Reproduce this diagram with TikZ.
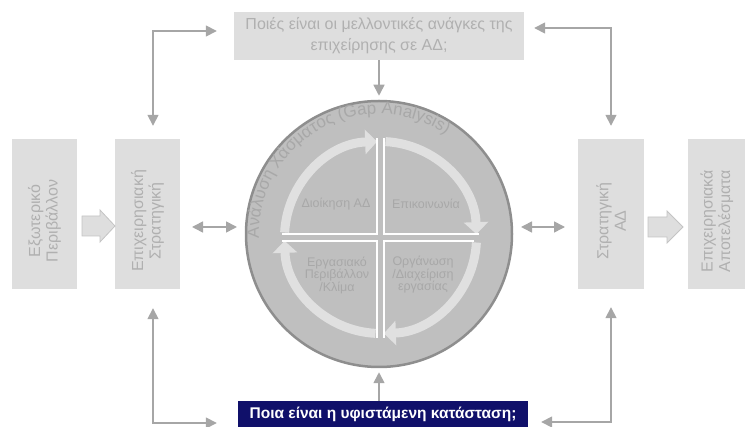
\documentclass[tikz,border=0pt]{standalone}
\usepackage{fontspec}
\setmainfont{Liberation Sans}
\usetikzlibrary{arrows.meta,decorations.text}
\definecolor{boxfill}{HTML}{DEDEDE}
\definecolor{boxtext}{HTML}{B0B0B0}
\definecolor{circfill}{HTML}{BFBFBF}
\definecolor{circdraw}{HTML}{8E8E8E}
\definecolor{ringcol}{HTML}{E0E0E0}
\definecolor{quadtext}{HTML}{A8A8A8}
\definecolor{arrgray}{HTML}{A6A6A6}
\definecolor{navy}{HTML}{10106A}
\definecolor{blockdraw}{HTML}{C4C4C4}
\begin{document}
\begin{tikzpicture}[x=1pt,y=1pt,
  box/.style={rectangle, fill=boxfill, inner sep=0pt, minimum height=150pt},
  vtext/.style={rotate=90, text=boxtext, align=center, font=\fontsize{16}{17.5}\selectfont},
  qtext/.style={text=quadtext, align=center, font=\fontsize{12.5}{12.5}\selectfont},
  conn/.style={draw=arrgray, line width=1.6pt},
  >={Triangle[length=11pt,width=11pt]},
  ringarr/.style={draw=ringcol, line width=9pt, -{Triangle[length=12pt,width=24pt]}},
  cross/.style={draw=white, line width=2pt},
  blockarr/.style={fill=boxfill, draw=blockdraw, line width=0.8pt}
]
\useasboundingbox (0,0) rectangle (745,-427);

% boxes
\node[box, minimum width=65pt] (b1) at (44.5,-214) {};
\node[vtext] at (44.5,-221) {Εξωτερικό\\Περιβάλλον};
\node[box, minimum width=65pt] (b2) at (147.5,-214) {};
\node[vtext] at (147.5,-221) {Επιχειρησιακή\\Στρατηγική};
\node[box, minimum width=66pt] (b3) at (611,-214) {};
\node[vtext] at (611,-221) {Στρατηγική\\ΑΔ};
\node[box, minimum width=57pt] (b4) at (716.5,-214) {};
\node[vtext] at (717,-221) {Επιχειρησιακά\\Αποτελέσματα};

% block arrows
\path[blockarr] (82,-216) -- (100,-216) -- (100,-210) -- (115,-226) -- (100,-242) -- (100,-236) -- (82,-236) -- cycle;
\path[blockarr] (648,-217) -- (667,-217) -- (667,-211) -- (683,-227) -- (667,-243) -- (667,-237) -- (648,-237) -- cycle;

% top and bottom boxes
\node[rectangle, fill=boxfill, minimum width=290pt, minimum height=48pt, inner sep=0pt,
      text=boxtext, align=center, font=\fontsize{16}{21}\selectfont] (tb) at (379,-36)
      {Ποιές είναι οι μελλοντικές ανάγκες της\\επιχείρησης σε ΑΔ;};
\node[rectangle, fill=navy, minimum width=290pt, minimum height=26pt, inner sep=0pt,
      text=white, font=\bfseries\fontsize{15.5}{18}\selectfont] (bb) at (383,-414)
      {Ποια είναι η υφιστάμενη κατάσταση;};

% gap analysis circle
\node[circle, fill=circfill, draw=circdraw, line width=2.5pt, minimum size=266pt, inner sep=0pt] (gap) at (379,-234) {};
\coordinate (cc) at (380.5,-237.5);

\draw[ringarr] ([shift={(177:96)}]cc) arc[start angle=177, end angle=92, radius=96];
\draw[ringarr] ([shift={(87:96)}]cc) arc[start angle=87, end angle=2, radius=96];
\draw[ringarr] ([shift={(-3:96)}]cc) arc[start angle=-3, end angle=-88, radius=96];
\draw[ringarr] ([shift={(-93:96)}]cc) arc[start angle=-93, end angle=-178, radius=96];

\draw[cross] (282,-234) -- (377,-234) -- (377,-138);
\draw[cross] (384,-138) -- (384,-234) -- (479,-234);
\draw[cross] (474,-241) -- (384,-241) -- (384,-338);
\draw[cross] (377,-338) -- (377,-241) -- (282,-241);

\node[qtext] (q1) at (336,-204) {Διοίκηση ΑΔ};
\node[qtext] (q2) at (426,-204) {Επικοινωνία};
\node[qtext] (q3) at (337,-275) {Εργασιακό\\Περιβάλλον\\/Κλίμα};
\node[qtext] (q4) at (423,-275) {Οργάνωση\\/Διαχείριση\\εργασίας};

\path[decorate, decoration={text along path, text color=quadtext,
   text={|\fontsize{17}{17}\selectfont|Ανάλυση Χάσματος (Gap Analysis)}}]
   ([shift={(182:120)}]gap.center) arc[start angle=182, end angle=10, radius=120];

% connectors
\draw[conn, ->, shorten >=4pt] (tb.south) -- (gap.north);
\draw[conn, ->, shorten >=4pt] (bb.north -| gap.south) -- (gap.south);

\coordinate (tlc) at (153,-31);
\coordinate (trc) at (611,-28);
\coordinate (blc) at (153,-423);
\coordinate (brc) at (611,-422);
\draw[conn, <->, shorten <=13pt, shorten >=17pt] (b2.north -| tlc) -- (tlc) -- (tlc -| tb.west);
\draw[conn, <->, shorten <=13pt, shorten >=10pt] (b3.north -| trc) -- (trc) -- (trc -| tb.east);
\draw[conn, <->, shorten <=19pt, shorten >=21pt] (b2.south -| blc) -- (blc) -- (blc -| bb.west);
\draw[conn, <->, shorten <=18pt, shorten >=13pt] (b3.south -| brc) -- (brc) -- (brc -| bb.east);

\coordinate (la1) at (192,-227);
\coordinate (la2) at (237,-227);
\coordinate (ra1) at (521,-227);
\coordinate (ra2) at (565,-227);
\draw[conn, <->] (la1) -- (la2);
\draw[conn, <->] (ra1) -- (ra2);
\end{tikzpicture}
\end{document}
